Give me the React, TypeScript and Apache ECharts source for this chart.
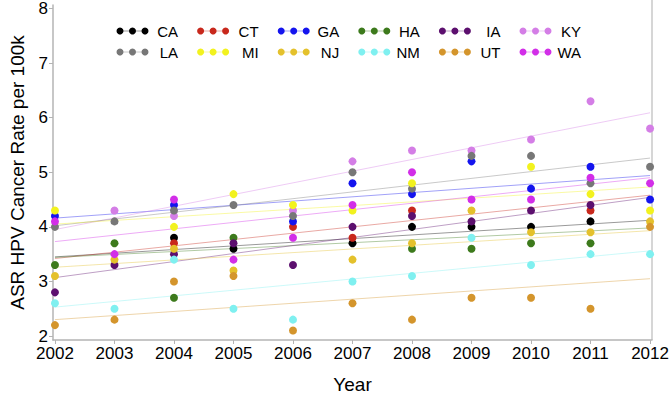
import React, { useEffect, useRef } from "react";
import * as echarts from "echarts";

const years = [2002, 2003, 2004, 2005, 2006, 2007, 2008, 2009, 2010, 2011, 2012];
const states = ["CA", "CT", "GA", "HA", "IA", "KY", "LA", "MI", "NJ", "NM", "UT", "WA"];
const colors = ["#000000", "#c8281c", "#1414ee", "#3d7a1c", "#5c0f6e", "#d47ee6", "#777777", "#f2f21e", "#e4c12c", "#7ff0f0", "#d4952c", "#d22ee8"];

const CA = [null, null, 3.8, 3.6, null, 3.7, 4.0, 4.0, 4.0, 4.1, null];
const CT = [null, null, 3.7, null, 4.0, 3.8, 4.3, null, null, 4.3, null];
const GA = [4.2, null, 4.4, null, 4.1, 4.8, 4.6, 5.2, 4.7, 5.1, 4.5];
const HA = [3.3, 3.7, 2.7, 3.8, null, null, 3.6, 3.6, 3.7, 3.7, null];
const IA = [2.8, 3.3, 3.5, 3.7, 3.3, 4.0, 4.2, 4.1, 4.3, 4.4, null];
const KY = [null, 4.3, 4.2, null, 4.3, 5.2, 5.4, 5.4, 5.6, 6.3, 5.8];
const LA = [4.0, 4.1, 4.3, 4.4, 4.2, 5.0, 4.7, 5.3, 5.3, 4.8, 5.1];
const MI = [4.3, null, 4.0, 4.6, 4.4, 4.3, 4.8, null, 5.1, 4.6, 4.3];
const NJ = [3.1, 3.4, 3.6, 3.2, null, 3.4, 3.7, 4.3, 3.9, 3.9, 4.1];
const NM = [2.6, 2.5, 3.4, 2.5, 2.3, 3.0, 3.1, 3.8, 3.3, 3.5, 3.5];
const UT = [2.2, 2.3, 3.0, 3.1, 2.1, 2.6, 2.3, 2.7, 2.7, 2.5, 4.0];
const WA = [4.1, 3.5, 4.5, 3.4, 3.8, 4.4, 5.0, 4.5, 4.5, 4.9, 4.8];
const values = [CA, CT, GA, HA, IA, KY, LA, MI, NJ, NM, UT, WA];

// trend line endpoints (value at 2002, value at 2012)
const trendStart = [3.45, 3.42, 4.16, 3.44, 3.07, 3.95, 4.02, 4.05, 3.26, 2.53, 2.3, 3.73];
const trendEnd = [4.12, 4.58, 4.94, 3.98, 4.54, 6.09, 5.26, 4.73, 3.93, 3.56, 3.05, 4.9];

const yTicks = [2, 3, 4, 5, 6, 7, 8];

const FONT = "Liberation Sans, Arial, sans-serif";

export default function App() {
  const ref = useRef<HTMLDivElement>(null);
  useEffect(() => {
    if (!ref.current) return;
    const chart = echarts.init(ref.current, null, { renderer: "svg" });
    const series: any[] = [];
    states.forEach((s, i) => {
      series.push({
        name: s + " trend",
        type: "line",
        data: [
          [years[0], trendStart[i]],
          [years[years.length - 1], trendEnd[i]],
        ],
        showSymbol: false,
        symbol: "none",
        lineStyle: { color: colors[i], width: 1, opacity: 0.4 },
        silent: true,
        z: 2,
      });
    });
    states.forEach((s, i) => {
      series.push({
        name: s,
        type: "scatter",
        data: years
          .map((y, k) => [y, values[i][k]])
          .filter((d) => d[1] !== null),
        symbol: "circle",
        symbolSize: 8,
        itemStyle: { color: colors[i], opacity: 1 },
        z: 3,
      });
    });
    const graphic: any[] = [];
    states.forEach((s, i) => {
      const row = Math.floor(i / 6);
      const col = i % 6;
      const x0 = 117 + col * 80.6;
      const y = 31 + row * 21;
      graphic.push({
        type: "line",
        shape: { x1: x0 + 3, y1: y, x2: x0 + 28, y2: y },
        style: { stroke: colors[i], lineWidth: 1, opacity: 0.4 },
      });
      [0, 12.5, 25].forEach((dx) => {
        graphic.push({
          type: "circle",
          shape: { cx: x0 + 3 + dx, cy: y, r: 3.5 },
          style: { fill: colors[i] },
        });
      });
      graphic.push({
        type: "text",
        x: x0 + 61,
        y: y,
        style: {
          text: s,
          fill: "#000",
          font: "15px " + FONT,
          align: "right",
          verticalAlign: "middle",
        },
      });
    });
    chart.setOption({
      animation: false,
      backgroundColor: "#ffffff",
      grid: { left: 50, right: 20, top: 4, bottom: 61 },
      xAxis: {
        type: "value",
        min: 2001.967,
        max: 2012.033,
        name: "Year",
        nameLocation: "middle",
        nameGap: 35,
        nameTextStyle: { fontSize: 19, fontFamily: FONT, color: "#000" },
        axisLine: { show: true, lineStyle: { color: "#b4b4b4", width: 1.5 } },
        axisTick: { show: true, length: 4, customValues: years, lineStyle: { color: "#b4b4b4" } },
        axisLabel: {
          customValues: years,
          fontSize: 17,
          fontFamily: FONT,
          color: "#000",
          margin: 5,
          formatter: (v: number) => String(Math.round(v)),
        },
        splitLine: { show: false },
      },
      yAxis: {
        type: "value",
        min: 1.927,
        max: 8.064,
        name: "ASR HPV Cancer Rate per 100k",
        nameLocation: "middle",
        nameGap: 26,
        nameTextStyle: { fontSize: 19, fontFamily: FONT, color: "#000" },
        axisLine: { show: true, lineStyle: { color: "#b4b4b4", width: 1.5 } },
        axisTick: { show: true, length: 4, customValues: yTicks, lineStyle: { color: "#b4b4b4" } },
        axisLabel: {
          customValues: yTicks,
          fontSize: 17,
          fontFamily: FONT,
          color: "#000",
          margin: 5,
          formatter: (v: number) => String(Math.round(v)),
        },
        splitLine: { show: false },
      },
      graphic: [
        {
          type: "line",
          shape: { x1: 652, y1: 0, x2: 652, y2: 340 },
          style: { stroke: "#c8c8c8", lineWidth: 1.5 },
        },
        ...graphic,
      ],
      series,
    });
    return () => chart.dispose();
  }, []);
  return <div ref={ref} style={{ width: 672, height: 401, position: "absolute", left: 0, top: 0 }} />;
}
